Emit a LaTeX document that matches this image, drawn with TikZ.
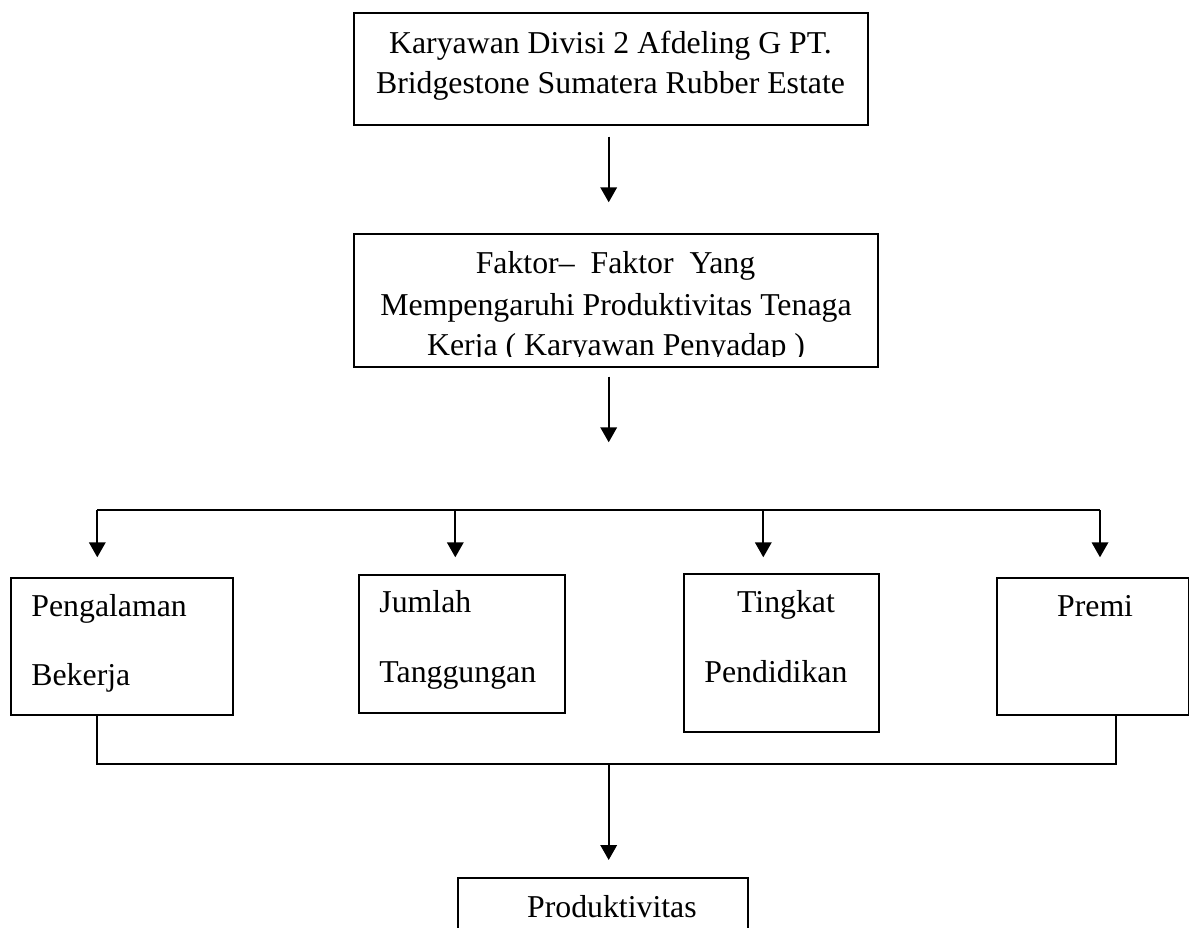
\documentclass[tikz,border=0pt]{standalone}
\usepackage{fontspec}
\setmainfont{Liberation Serif}
\usetikzlibrary{arrows.meta}
\tikzset{
  box/.style={draw, line width=1pt, inner sep=0pt, anchor=north west},
  lbl/.style={inner sep=0pt, anchor=base west, font=\fontsize{15.9pt}{20pt}\selectfont},
  clbl/.style={inner sep=0pt, anchor=base, font=\fontsize{15.9pt}{20pt}\selectfont},
  arr/.style={line width=1.1pt, -{Triangle[width=8.2pt,length=7.5pt]}},
  ln/.style={line width=1pt}
}
\begin{document}
\begin{tikzpicture}[x=0.5pt,y=-0.5pt]
\clip (0,0) rectangle (1189,927);
\fill[white] (0,0) rectangle (1189,927);
% boxes
\node[box, minimum width=257pt, minimum height=56pt] (top) at (352.7,12.3) {};
\node[box, minimum width=262.3pt, minimum height=66.2pt] (fak) at (352.7,233.3) {};
\node[box, minimum width=110.85pt, minimum height=68.65pt] (peng) at (10,576.7) {};
\node[box, minimum width=103pt, minimum height=68.85pt] (jum) at (358.3,574) {};
\node[box, minimum width=97.8pt, minimum height=78.7pt] (ting) at (682.7,573.3) {};
\node[box, minimum width=96.15pt, minimum height=68.65pt] (prem) at (995.7,576.7) {};
\node[box, minimum width=144.7pt, minimum height=45pt] (prod) at (457.3,876.7) {};
% texts
\node[clbl] (t1) at (610.5,53.3) {Karyawan Divisi 2 Afdeling G PT.};
\node[clbl] (t2) at (610.5,93.3) {Bridgestone Sumatera Rubber Estate};
\begin{scope}
\clip (353,233) rectangle (877,356.8);
\node[clbl] (f1) at (615.5,273.3) {Faktor–\ \ Faktor\ \ Yang};
\node[clbl] (f2) at (616,315) {Mempengaruhi Produktivitas Tenaga};
\node[clbl] (f3) at (616,355.8) {Kerja ( Karyawan Penyadap )};
\end{scope}
\node[lbl] (p1) at (31,616) {Pengalaman};
\node[lbl] (p2) at (31,685) {Bekerja};
\node[lbl] (j1) at (379,612.7) {Jumlah};
\node[lbl] (j2) at (379,682.7) {Tanggungan};
\node[lbl] (g1) at (736.7,612) {Tingkat};
\node[lbl] (g2) at (704,682.7) {Pendidikan};
\node[lbl] (r1) at (1056.7,616.7) {Premi};
\node[lbl] (d1) at (526.7,917) {Produktivitas};
% connector points
\coordinate (a1s) at (608.7,136.7);
\coordinate (a1e) at (608.7,202.3);
\coordinate (a2s) at (608.7,376.7);
\coordinate (a2e) at (608.7,442.3);
\coordinate (dA) at (97.3,510);
\coordinate (dB) at (455.3,510);
\coordinate (dC) at (763.3,510);
\coordinate (dD) at (1100,510);
\coordinate (bL) at (97.3,764.3);
\coordinate (bR) at (1115.7,764.3);
\coordinate (bC) at (608.7,764.3);
\coordinate (bE) at (608.7,860);
% connectors
\draw[arr] (a1s) -- (a1e);
\draw[arr] (a2s) -- (a2e);
\draw[ln] (dA) -- (dD);
\draw[arr] (dA) -- ++(0,47.3);
\draw[arr] (dB) -- ++(0,47.3);
\draw[arr] (dC) -- ++(0,47.3);
\draw[arr] (dD) -- ++(0,47.3);
\draw[ln] (bL |- peng.south) -- (bL) -- (bR) -- (bR |- prem.south);
\draw[arr] (bC) -- (bE);
\end{tikzpicture}
\end{document}
